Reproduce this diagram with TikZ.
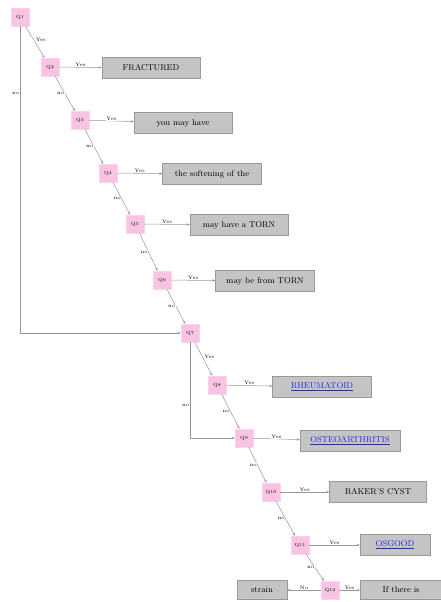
\documentclass[tikz,border=0pt]{standalone}
\usepackage{tikz}
\usetikzlibrary{arrows.meta}
\usepackage{xcolor}
\definecolor{qpink}{RGB}{248,196,226}
\definecolor{boxgray}{RGB}{196,196,196}
\definecolor{linkblue}{RGB}{40,40,220}
\definecolor{edgegray}{RGB}{150,150,150}
\tikzset{
  qbox/.style={fill=qpink,draw=qpink!70!magenta!40,minimum width=18pt,minimum height=18pt,inner sep=0pt,font=\fontsize{4.5}{5}\selectfont},
  ansbox/.style={fill=boxgray,draw=gray!80,minimum height=21pt,inner sep=2pt,font=\fontsize{8.5}{10}\selectfont},
  link/.style={text=linkblue},
  arr/.style={draw=edgegray,-{Stealth[length=3pt,width=2.5pt]},line width=0.5pt},
  lab/.style={font=\fontsize{5}{6}\selectfont,fill=white,inner sep=0.5pt}
}
\newcommand{\lnk}[1]{\underline{#1}}
\begin{document}
\begin{tikzpicture}[x=1pt,y=-1pt]
\useasboundingbox (0,0) rectangle (440,602);

\node[qbox] (q1) at (20,17) {Q1};
\node[qbox] (q2) at (50,67) {Q2};
\node[qbox] (q3) at (80,120) {Q3};
\node[qbox] (q4) at (108,173) {Q4};
\node[qbox] (q5) at (135,224) {Q5};
\node[qbox] (q6) at (162,280) {Q6};
\node[qbox] (q7) at (190,333) {Q7};
\node[qbox] (q8) at (217,385) {Q8};
\node[qbox] (q9) at (244,438) {Q9};
\node[qbox] (q10) at (271,492) {Q10};
\node[qbox] (q11) at (300,545) {Q11};
\node[qbox] (q12) at (330,590) {Q12};

\node[ansbox,minimum width=98pt] (fract) at (151,68) {FRACTURED};
\node[ansbox,minimum width=98pt] (mayhave) at (183,123) {you may have};
\node[ansbox,minimum width=99pt] (soft) at (212,174) {the softening of the};
\node[ansbox,minimum width=98pt] (torn) at (239,225) {may have a TORN};
\node[ansbox,minimum width=99pt] (fromtorn) at (265,281) {may be from TORN};
\node[ansbox,minimum width=99pt,link] (rheum) at (322,387) {\lnk{RHEUMATOID}};
\node[ansbox,minimum width=100pt,link] (osteo) at (350,441) {\lnk{OSTEOARTHRITIS}};
\node[ansbox,minimum width=97pt] (baker) at (378,492) {BAKER'S CYST};
\node[ansbox,minimum width=70pt,link] (osgood) at (395,545) {\lnk{OSGOOD}};
\node[ansbox,minimum width=50pt,minimum height=19pt] (strain) at (262,590) {strain};
\node[ansbox,minimum width=82pt,minimum height=19pt,anchor=west] (thereis) at (360,590) {If there is};

% yes branches
\draw[arr] (q1) -- node[lab,pos=0.5,above right] {Yes} (q2);
\draw[arr] (q2) -- node[lab,above] {Yes} (fract);
\draw[arr] (q3) -- node[lab,above] {Yes} (mayhave);
\draw[arr] (q4) -- node[lab,above] {Yes} (soft);
\draw[arr] (q5) -- node[lab,above] {Yes} (torn);
\draw[arr] (q6) -- node[lab,above] {Yes} (fromtorn);
\draw[arr] (q7) -- node[lab,pos=0.5,above right] {Yes} (q8);
\draw[arr] (q8) -- node[lab,above] {Yes} (rheum);
\draw[arr] (q9) -- node[lab,above] {Yes} (osteo);
\draw[arr] (q10) -- node[lab,above] {Yes} (baker);
\draw[arr] (q11) -- node[lab,above] {Yes} (osgood);
\draw[arr] (q12) -- node[lab,above] {Yes} (thereis);

% no branches
\draw[arr] (q2) -- node[lab,pos=0.5,left] {no} (q3);
\draw[arr] (q3) -- node[lab,pos=0.5,left] {no} (q4);
\draw[arr] (q4) -- node[lab,pos=0.5,left] {no} (q5);
\draw[arr] (q5) -- node[lab,pos=0.5,left] {no} (q6);
\draw[arr] (q6) -- node[lab,pos=0.5,left] {no} (q7);
\draw[arr] (q8) -- node[lab,pos=0.5,left] {no} (q9);
\draw[arr] (q9) -- node[lab,pos=0.5,left] {no} (q10);
\draw[arr] (q10) -- node[lab,pos=0.5,left] {no} (q11);
\draw[arr] (q11) -- node[lab,pos=0.5,left] {no} (q12);
\draw[arr] (q1) |- node[lab,pos=0.11,left] {no} (q7);
\draw[arr] (q7) |- node[lab,pos=0.33,left] {no} (q9);
\draw[arr] (q12) -- node[lab,above] {No} (strain);
\end{tikzpicture}
\end{document}
